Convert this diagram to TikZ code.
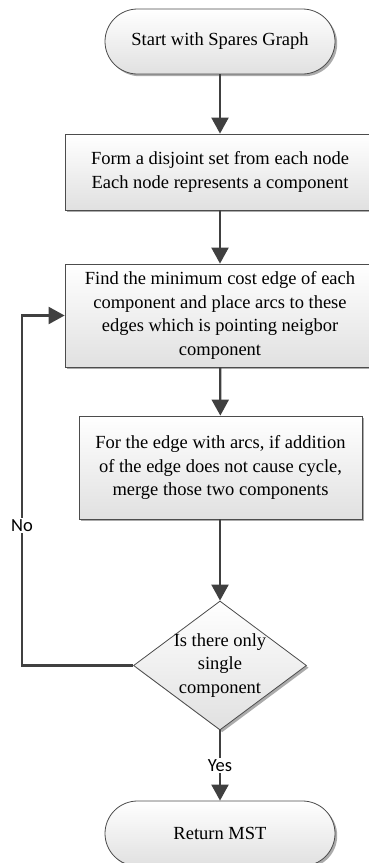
\documentclass[tikz,border=0pt]{standalone}
\usepackage{fontspec}
\setmainfont{Liberation Serif}
\newfontfamily\lblfont{Carlito}
\usetikzlibrary{arrows.meta,shapes.geometric,shadows}

\tikzset{
  boxfill/.style={draw=black!70, line width=0.8pt,
    top color=white, bottom color=black!12,
    drop shadow={shadow xshift=2.2pt, shadow yshift=-2.2pt, fill=black!55, opacity=0.6}},
  txt/.style={font=\fontsize{18.5}{23.5}\selectfont, align=center, inner sep=0pt},
  terminal/.style={boxfill, txt, minimum width=230pt, minimum height=65pt, rounded corners=32.5pt},
  process/.style={boxfill, txt, minimum width=310pt},
  decision/.style={boxfill, diamond, inner sep=0pt, minimum width=173pt, minimum height=129pt},
  flow/.style={draw=black!75, line width=2.2pt, -{Triangle[length=16pt,width=17pt]}},
  lbl/.style={font=\lblfont\fontsize{18.5}{20}\selectfont, fill=white, inner sep=1.5pt, text=black}
}

\begin{document}
\begin{tikzpicture}[x=1pt, y=-1pt]
  \useasboundingbox (0,0) rectangle (368,863);

  % flowchart blocks
  \node[terminal] (start) at (220,41.5) {Start with Spares Graph};
  \node[process, minimum height=76pt] (init) at (220,172)
    {Form a disjoint set from each node\\Each node represents a component};
  \node[process, minimum height=103pt] (find) at (220,315.5)
    {Find the minimum cost edge of each\\component and place arcs to these\\edges which is pointing neigbor\\component};
  \node[process, minimum width=283pt, minimum height=103pt] (merge) at (220.5,467.5)
    {For the edge with arcs, if addition\\of the edge does not cause cycle,\\merge those two components};
  \node[decision] (check) at (220,665.5) {};
  \node[txt] (checktxt) at (check.center) {Is there only\\single\\component};
  \node[terminal] (ret) at (220,833.5) {Return MST};

  % connectors
  \coordinate (loopx) at (22,0);
  \draw[flow] (start) -- (init);
  \draw[flow] (init) -- (find);
  \draw[flow] (find) -- (merge);
  \draw[flow] (merge.south -| check.north) -- (check.north);
  \draw[flow] (check.south) -- node[lbl] {Yes} (ret.north);
  \draw[flow] (check.west) -- (check.west -| loopx)
    -- node[lbl, pos=0.40] {No} (find.west -| loopx) -- (find.west);
\end{tikzpicture}
\end{document}
